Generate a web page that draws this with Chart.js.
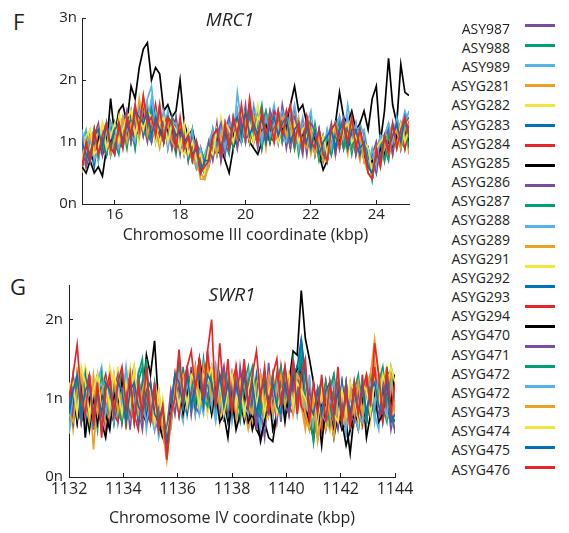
<!DOCTYPE html>
<html>
<head>
<meta charset="utf-8">
<script src="https://cdn.jsdelivr.net/npm/chart.js@4.4.1/dist/chart.umd.min.js"></script>
<style>
  body { margin: 0; background: #fff; width: 569px; height: 533px; overflow: hidden; position: relative;
         font-family: "Open Sans", sans-serif; color: #231f20; }
  .box { position: absolute; left: 0; }
  .tag { position: absolute; font-size: 22px; line-height: 22px; }
  .gene { position: absolute; width: 200px; text-align: center; font-size: 19px; line-height: 19px; font-style: italic; }
  .lab { position: absolute; right: 59px; font-size: 14px; line-height: 14px; white-space: nowrap; }
  .swatch { position: absolute; left: 525px; width: 30px; height: 3px; }
</style>
</head>
<body>
<div class="tag" style="left:13px; top:10px;">F</div>
<div class="tag" style="left:10px; top:275px;">G</div>
<div class="box" style="top:0px; width:430px; height:250px;"><canvas id="mrc1" width="430" height="250"></canvas></div>
<div class="box" style="top:260px; width:430px; height:273px;"><canvas id="swr1" width="430" height="273"></canvas></div>
<div class="gene" style="left:130px; top:10px;">MRC1</div>
<div class="gene" style="left:132px; top:285px;">SWR1</div>
<div id="legend"></div>
<script>
// strain names as printed in the legend (24 names, 23 colour swatches)
const strains = ["ASY987", "ASY988", "ASY989", "ASYG281", "ASYG282", "ASYG283", "ASYG284", "ASYG285",
  "ASYG286", "ASYG287", "ASYG288", "ASYG289", "ASYG291", "ASYG292", "ASYG293", "ASYG294",
  "ASYG470", "ASYG471", "ASYG472", "ASYG472", "ASYG473", "ASYG474", "ASYG475", "ASYG476"];
const palette = ["#7e4c9e", "#00a077", "#56b4e9", "#eba125", "#f2e53f", "#0072b8", "#e8262a", "#000000"];

// panel F: MRC1 region, chromosome III (kbp)
const xMrc1 = [15,15.125,15.25,15.375,15.5,15.625,15.75,15.875,16,16.125,16.25,16.375,16.5,16.625,16.75,16.875,
  17,17.125,17.25,17.375,17.5,17.625,17.75,17.875,18,18.125,18.25,18.375,18.5,18.625,18.75,18.875,
  19,19.125,19.25,19.375,19.5,19.625,19.75,19.875,20,20.125,20.25,20.375,20.5,20.625,20.75,20.875,
  21,21.125,21.25,21.375,21.5,21.625,21.75,21.875,22,22.125,22.25,22.375,22.5,22.625,22.75,22.875,
  23,23.125,23.25,23.375,23.5,23.625,23.75,23.875,24,24.125,24.25,24.375,24.5,24.625,24.75,24.875,25];
const xTicksMrc1 = [16, 18, 20, 22, 24];
const yTicksMrc1 = [0, 1, 2, 3];

const mrc1_01 = [0.6,1.1,0.8,0.7,1.2,0.9,1.3,0.8,1.0,1.4, 1.0,1.5,1.2,0.9,1.6,1.3,1.0,1.5,1.4,1.0,
  1.5,0.9,1.3,1.2,0.8,1.3,0.7,1.1,0.6,0.9, 0.5,1.0,0.8,1.3,0.7,1.2,1.4,0.9,1.5,1.1,
  1.6,1.0,1.4,1.5,0.9,1.4,1.1,1.5,1.0,1.6, 1.2,0.9,1.5,1.1,0.8,1.4,1.2,0.8,1.1,0.7,
  1.0,1.3,0.8,1.4,1.1,0.9,1.4,1.0,1.2,0.7, 0.9,0.5,0.8,1.1,0.7,1.2,1.0,1.4,0.9,1.3,1.2];
const mrc1_02 = [0.9,0.6,1.0,1.2,0.7,1.1,0.8,1.3,1.0,0.8, 1.3,1.1,1.5,0.9,1.4,1.6,1.2,1.0,1.5,1.1,
  1.0,1.4,1.1,0.8,1.3,1.0,0.8,1.2,0.6,0.8, 0.6,0.7,1.2,0.8,1.3,1.0,0.8,1.4,1.1,1.3,
  1.0,1.5,1.1,1.3,1.6,1.0,1.2,1.4,1.1,1.3, 1.5,1.0,1.3,0.8,1.2,1.0,1.4,0.8,1.2,0.9,
  0.7,1.1,1.3,0.9,1.3,1.2,0.8,1.2,0.9,1.1, 0.6,0.7,0.5,1.0,0.9,0.7,1.2,0.9,1.3,1.1,0.9];
const mrc1_03 = [1.1,0.8,0.7,1.2,0.9,0.8,1.3,1.1,0.9,1.2, 1.4,1.0,1.3,1.6,1.2,1.4,1.7,1.9,1.3,1.6,
  1.2,1.5,1.0,1.4,0.9,1.2,1.1,0.8,1.0,0.7, 0.8,1.0,0.9,1.2,1.1,0.8,1.3,1.0,1.8,1.3,
  1.2,1.0,1.6,1.3,1.0,1.5,1.3,1.6,1.1,1.4, 1.0,1.3,1.6,1.2,1.0,1.3,1.5,0.9,1.1,0.8,
  1.2,1.0,1.3,1.4,1.0,1.6,1.2,0.9,1.3,1.1, 0.8,0.6,1.0,0.7,1.1,1.3,1.0,1.4,1.2,1.5,1.3];
const mrc1_04 = [0.5,1.0,0.7,0.9,1.2,0.8,1.1,0.9,1.3,1.0, 1.2,0.9,1.4,1.1,1.7,1.3,1.1,1.5,1.2,0.9,
  1.3,1.0,1.4,0.9,1.2,0.8,1.1,0.7,0.6,0.5, 0.4,0.7,1.0,0.8,1.2,0.9,1.1,1.3,0.9,1.2,
  1.5,1.0,1.3,1.1,1.4,0.9,1.5,1.2,1.0,1.4, 1.1,1.3,1.0,1.4,0.9,1.2,0.8,1.1,0.7,1.0,
  0.8,1.2,0.9,1.3,1.1,0.8,1.2,1.0,0.7,1.1, 0.5,0.4,0.8,0.6,1.0,1.1,0.8,1.2,0.9,1.3,0.8];
const mrc1_05 = [0.7,0.9,1.2,0.8,1.1,1.3,0.8,1.0,1.2,1.5, 1.1,0.9,1.5,1.3,1.0,1.6,1.4,1.1,1.6,1.2,
  1.0,1.3,0.9,1.4,1.1,1.2,0.9,0.8,1.0,0.6, 0.7,0.6,1.1,0.9,1.4,1.0,1.2,0.9,1.3,1.5,
  1.0,1.4,1.2,1.6,1.0,1.3,1.5,1.1,1.3,1.4, 1.1,1.5,0.9,1.3,1.2,1.0,1.3,0.9,1.1,0.8,
  1.0,1.2,0.8,1.3,1.0,1.2,1.4,0.8,1.2,1.0, 0.6,0.8,0.9,0.6,1.1,0.8,1.2,1.0,1.1,1.4,1.2];
const mrc1_06 = [0.8,1.0,0.9,0.6,1.1,1.0,1.2,1.0,0.8,1.2, 1.3,1.4,1.0,1.4,1.5,1.1,1.3,1.6,1.2,1.4,
  1.1,1.3,1.2,1.0,1.2,0.9,1.1,0.9,0.7,0.9, 0.6,0.9,1.1,1.2,0.8,1.3,1.0,1.2,1.3,1.0,
  1.4,1.2,1.5,1.0,1.3,1.4,1.0,1.4,1.3,1.0, 1.3,1.4,1.0,1.2,1.3,0.9,1.3,1.1,0.8,1.1,
  0.9,0.8,1.3,1.1,0.9,1.3,1.2,0.9,1.1,0.8, 0.7,0.5,0.9,0.8,1.0,0.9,1.2,1.0,1.3,1.1,1.4];
const mrc1_07 = [0.6,1.0,0.8,1.1,1.2,0.9,0.8,1.3,1.1,0.9, 1.0,1.4,1.2,1.5,1.2,1.7,1.4,1.2,1.6,1.1,
  1.4,1.0,1.4,1.3,1.0,1.1,0.9,1.0,0.6,0.7, 0.5,0.8,1.0,1.1,1.2,0.9,1.3,1.0,1.4,1.5,
  1.2,1.6,1.0,1.3,1.4,1.1,1.0,1.5,1.4,1.1, 1.5,1.2,0.9,1.3,1.0,1.4,1.0,0.9,1.1,0.8,
  1.0,1.2,0.9,1.1,1.3,0.9,1.2,0.8,1.1,0.7, 0.6,0.6,0.7,1.0,0.8,1.1,0.9,1.3,1.2,1.0,1.4];
const mrc1_08 = [0.6,0.5,0.7,0.5,0.6,0.45,0.9,1.7,1.1,1.5, 1.6,1.3,1.9,1.7,2.2,2.5,2.6,2.0,2.2,2.1,
  1.5,1.6,1.4,1.5,2.0,1.3,1.1,1.2,0.9,0.8, 0.6,0.9,1.0,0.8,0.9,0.7,0.5,0.9,1.1,1.0,
  1.3,1.0,0.9,0.8,1.0,1.1,1.2,1.1,1.3,1.2, 1.3,1.6,1.9,1.5,1.6,1.3,1.2,1.0,0.8,0.55,
  0.7,1.2,1.3,1.8,1.4,1.3,1.5,1.2,1.3,1.5, 1.2,1.7,1.9,1.0,1.5,2.35,1.6,1.3,2.25,1.8,1.75];
const mrc1_09 = [1.0,0.7,1.1,0.8,1.2,0.9,0.8,1.2,0.9,1.3, 1.0,1.4,1.0,1.2,1.5,1.1,1.5,1.3,1.2,1.0,
  1.3,1.4,0.9,1.1,1.3,0.8,1.1,0.7,1.0,0.8, 0.6,0.6,0.9,1.2,0.7,1.0,1.2,1.3,1.0,1.5,
  1.1,1.4,1.0,1.3,1.4,1.0,1.4,1.3,1.5,1.0, 1.3,0.9,1.4,1.1,0.9,1.3,1.2,0.8,1.2,0.7,
  1.0,1.2,0.9,1.3,0.9,1.2,1.0,1.3,0.8,1.1, 0.7,0.8,0.5,0.9,1.1,0.8,1.0,1.2,1.3,0.9,1.3];
const mrc1_10 = [0.6,0.8,1.0,1.2,0.8,1.1,1.2,0.8,1.3,1.0, 0.9,1.3,1.4,1.0,1.4,1.5,1.1,1.0,1.4,1.3,
  1.0,1.3,1.2,0.9,1.0,1.2,0.7,1.0,0.6,0.9, 0.7,0.9,1.0,0.8,1.2,1.2,0.9,1.1,1.4,1.2,
  1.4,1.0,1.2,1.4,0.9,1.3,1.4,1.1,1.5,1.2, 1.0,1.3,1.2,0.9,1.2,1.3,0.9,1.1,0.7,0.9,
  1.1,0.8,1.2,1.3,1.0,0.9,1.2,1.1,1.0,0.8, 0.9,0.4,0.8,0.7,0.9,1.2,1.0,1.3,1.0,0.9,1.2];
const mrc1_11 = [1.0,1.2,0.8,1.0,0.7,1.2,1.3,0.9,1.2,1.0, 1.4,1.2,1.0,1.4,1.2,1.6,1.3,1.7,1.2,1.1,
  1.5,1.2,1.0,1.3,1.1,1.2,1.0,0.8,0.9,0.6, 0.6,1.0,1.2,0.9,1.1,1.3,0.9,1.4,1.1,1.5,
  1.2,1.4,1.1,1.0,1.4,1.2,1.5,1.1,1.3,1.5, 1.3,1.0,1.3,1.1,1.4,1.0,0.9,1.2,0.8,1.0,
  0.7,1.1,1.2,1.4,1.0,1.3,0.9,1.2,1.1,1.2, 0.8,0.8,0.6,1.1,0.9,1.1,1.3,1.0,1.1,1.4,1.2];
const mrc1_12 = [0.8,0.6,1.0,0.9,1.2,0.8,1.1,1.2,0.9,1.3, 1.2,1.0,1.3,1.5,1.2,1.4,1.6,1.2,1.1,1.4,
  1.0,1.4,1.2,1.0,1.3,0.9,0.8,1.1,0.6,0.5, 0.4,0.7,0.8,1.2,1.0,1.2,0.9,1.3,1.2,1.0,
  1.4,1.2,1.0,1.3,1.1,1.4,1.1,1.0,1.4,1.3, 1.1,1.0,1.4,0.9,1.3,1.1,1.2,0.9,1.1,0.7,
  0.9,1.1,1.0,1.0,1.3,1.1,0.9,1.2,1.0,0.8, 0.6,0.5,0.9,0.8,1.1,1.0,0.8,1.2,1.3,1.0,1.3];
const mrc1_13 = [1.1,0.8,0.9,1.2,1.0,1.3,0.9,1.2,1.0,1.4, 1.0,1.3,1.4,1.1,1.4,1.5,1.2,1.1,1.4,1.0,
  1.3,1.2,1.0,1.3,0.9,0.8,1.2,0.8,0.9,0.5, 0.7,0.9,0.8,1.2,1.0,0.9,1.2,1.3,1.0,1.4,
  1.5,1.1,1.4,1.0,1.3,1.4,1.0,1.2,1.3,1.0, 1.4,1.2,1.0,1.3,0.9,1.1,1.3,0.9,1.0,0.7,
  1.1,1.0,1.2,0.9,1.3,1.2,0.9,1.1,1.2,0.7, 0.7,0.5,0.9,1.0,0.8,1.1,1.2,0.9,1.1,1.2,1.4];
const mrc1_14 = [0.9,0.7,1.1,1.0,0.8,1.1,1.2,0.9,1.3,1.0, 1.2,1.3,1.2,1.1,1.3,1.6,1.2,1.5,1.1,1.3,
  1.4,1.1,1.2,1.0,1.1,1.0,1.1,0.7,0.9,0.6, 0.7,0.9,1.0,0.9,1.2,1.0,1.3,1.0,1.2,1.3,
  1.1,1.5,1.2,1.3,1.0,1.3,1.2,1.4,1.0,1.3, 1.2,1.3,1.1,1.0,1.2,1.0,1.2,0.9,0.9,1.1,
  0.8,1.0,1.2,0.9,1.2,1.0,1.2,1.0,0.8,1.1, 0.8,0.5,0.7,1.0,0.8,1.0,1.1,1.2,1.0,1.3,1.0];
const mrc1_15 = [0.8,0.9,1.1,0.8,1.0,1.2,0.9,0.9,1.2,1.3, 1.0,1.3,1.1,1.4,1.5,1.2,1.5,1.2,1.4,1.1,
  1.3,1.4,1.0,1.3,1.0,1.1,0.9,1.0,0.7,0.8, 0.5,0.9,1.1,1.2,0.9,1.2,1.0,1.2,1.3,1.4,
  1.2,1.3,1.4,1.1,1.3,1.4,1.1,1.0,1.4,1.3, 1.1,1.4,1.0,1.2,0.9,1.3,1.0,1.1,0.9,0.8,
  1.0,0.9,1.2,1.0,1.1,1.2,1.0,1.1,0.9,1.0, 0.6,0.5,0.9,0.7,1.0,0.9,1.1,1.0,1.3,0.9,1.3];
const mrc1_16 = [0.6,0.9,0.8,0.7,1.1,0.8,1.1,1.0,1.1,1.0, 1.3,1.0,1.4,1.1,1.2,1.5,1.1,1.4,1.1,1.2,
  1.1,1.2,1.3,0.9,1.2,1.0,0.8,1.0,0.7,0.8, 0.5,0.9,0.8,1.1,0.9,1.2,0.9,1.1,1.3,1.1,
  1.3,1.0,1.3,1.1,1.2,1.3,1.0,1.3,1.1,1.2, 1.3,1.0,1.2,1.0,1.1,1.2,0.9,1.1,0.8,0.7,
  1.0,0.9,1.1,1.0,1.2,0.9,1.1,0.9,1.1,0.8, 0.6,0.7,0.6,0.9,0.8,1.0,0.9,1.1,1.0,1.2,1.0];
const mrc1_17 = [1.1,0.6,0.8,1.1,1.3,0.8,1.2,0.8,1.2,0.9, 1.3,1.5,1.0,1.4,1.1,1.5,1.4,1.0,1.3,1.5,
  1.0,1.3,0.9,1.4,0.9,1.2,0.8,1.1,0.9,0.5, 0.6,1.0,0.7,1.1,1.3,0.8,1.2,1.3,0.9,1.4,
  1.0,1.5,1.3,0.9,1.3,1.0,1.5,1.3,1.0,1.4, 0.9,1.3,1.4,1.0,1.3,0.8,1.3,1.2,0.8,1.1,
  0.7,1.2,0.8,1.2,1.4,0.9,1.3,0.8,1.2,0.9, 0.6,0.8,1.0,0.7,1.1,1.2,0.8,1.3,0.9,1.3,1.4];
const mrc1_18 = [0.7,1.1,0.7,1.2,0.8,1.2,0.8,1.3,0.9,1.2, 1.3,0.9,1.4,1.3,1.5,1.2,1.1,1.5,1.0,1.4,
  1.3,1.0,1.4,1.0,0.9,1.2,0.9,0.7,1.0,0.6, 0.5,0.9,1.1,0.9,0.8,1.2,1.2,0.9,1.3,1.0,
  1.4,1.4,1.0,1.3,1.3,1.5,1.0,1.3,1.4,1.0, 1.4,1.3,0.9,1.3,1.0,1.2,0.9,1.3,0.9,0.7,
  1.1,0.8,1.1,1.3,0.9,1.3,0.9,1.2,1.2,0.8, 0.9,0.4,0.9,1.0,0.7,1.1,1.2,0.9,1.2,1.3,0.9];
const mrc1_19 = [1.2,0.8,1.1,0.7,0.9,1.2,0.9,1.3,1.2,0.9, 1.3,1.4,1.1,1.0,1.5,1.2,1.6,1.1,1.5,1.3,
  1.4,0.9,1.3,1.3,1.0,0.9,1.0,1.2,0.6,0.9, 0.5,0.7,1.2,0.8,1.2,0.9,1.3,1.2,1.5,1.0,
  1.4,1.1,1.5,1.4,1.0,1.4,1.1,1.3,1.5,1.1, 1.0,1.5,1.3,0.9,1.3,1.3,1.0,1.2,1.1,0.8,
  1.2,0.9,1.3,1.2,1.1,1.4,1.0,1.3,0.9,1.1, 0.6,0.9,0.6,1.1,1.1,1.3,1.0,1.4,1.0,1.3,1.5];
const mrc1_20 = [0.6,1.0,1.1,0.8,1.2,0.9,1.2,0.8,1.1,1.0, 1.4,1.0,1.3,1.4,1.1,1.7,1.1,1.4,1.1,1.4,
  1.1,1.3,1.0,0.9,1.3,0.9,1.0,0.7,0.8,0.4, 0.4,0.6,1.1,0.8,1.1,1.3,0.9,1.2,1.3,1.1,
  1.3,1.0,1.4,1.0,1.3,1.1,1.4,1.0,1.3,1.4, 1.1,1.3,1.0,1.3,1.0,0.9,1.2,0.8,1.1,0.7,
  0.7,1.1,1.2,0.9,1.2,0.9,1.3,0.9,1.1,0.7, 0.5,0.4,0.9,0.6,1.0,0.8,1.1,1.2,0.9,1.2,1.3];
const mrc1_21 = [0.7,1.1,1.2,0.8,0.9,1.3,0.9,1.1,1.3,1.0, 1.2,1.4,1.5,1.1,1.4,1.2,1.5,1.4,1.0,1.3,
  1.4,1.0,1.3,1.2,0.9,1.3,0.8,1.0,0.7,0.8, 0.5,0.9,0.8,1.2,0.9,1.3,1.2,1.0,1.3,1.5,
  1.1,1.3,1.0,1.4,1.3,1.1,1.3,1.4,1.0,1.3, 1.4,1.0,1.3,1.0,1.2,1.3,0.9,1.2,0.8,1.1,
  0.8,1.1,1.3,0.9,1.2,1.3,1.0,1.1,0.9,1.0, 0.9,0.5,0.9,1.0,1.1,0.9,1.2,0.9,1.3,1.0,1.2];
const mrc1_22 = [1.0,0.8,0.7,1.1,1.2,0.9,1.3,0.9,1.2,1.3, 1.0,1.3,1.1,1.5,1.4,1.3,1.5,1.1,1.4,1.2,
  1.0,1.4,1.3,1.1,1.2,1.0,1.1,0.8,0.9,0.5, 0.7,0.7,1.1,1.2,0.9,1.2,0.9,1.3,1.4,1.1,
  1.5,1.1,1.3,1.1,1.4,1.0,1.3,1.4,1.1,1.3, 1.4,1.0,1.2,1.3,0.9,1.3,0.9,1.2,0.8,1.0,
  1.1,1.2,0.9,1.2,1.3,0.9,1.2,1.2,0.9,1.0, 0.6,0.5,0.8,0.7,1.1,0.9,1.1,1.3,1.0,1.4,1.1];
const mrc1_23 = [0.6,1.0,0.7,1.2,0.8,1.1,1.3,0.9,0.8,1.3, 0.9,1.4,1.1,1.6,1.2,1.75,1.3,1.4,1.1,1.6,
  1.0,1.4,1.3,0.9,1.4,0.9,1.1,0.7,1.0,0.5, 0.6,0.7,1.1,1.2,0.8,1.3,0.9,1.4,1.1,1.6,
  1.1,1.7,1.2,1.0,1.5,1.1,1.4,1.0,1.5,1.1, 1.4,1.6,1.0,1.3,0.9,1.4,1.0,0.9,1.2,0.8,
  0.7,1.2,1.3,0.9,1.3,1.0,1.4,0.9,1.2,0.9, 0.5,0.4,0.9,0.6,1.1,0.8,1.3,0.9,1.2,1.4,1.1];

// panel G: SWR1 region, chromosome IV (kbp)
const xSwr1 = [1132,1132.15,1132.3,1132.45,1132.6,1132.75,1132.9,1133.05,1133.2,1133.35,1133.5,1133.65,
  1133.8,1133.95,1134.1,1134.25,1134.4,1134.55,1134.7,1134.85,1135,1135.15,1135.3,1135.45,1135.6,1135.75,
  1135.9,1136.05,1136.2,1136.35,1136.5,1136.65,1136.8,1136.95,1137.1,1137.25,1137.4,1137.55,1137.7,1137.85,
  1138,1138.15,1138.3,1138.45,1138.6,1138.75,1138.9,1139.05,1139.2,1139.35,1139.5,1139.65,1139.8,1139.95,
  1140.1,1140.25,1140.4,1140.55,1140.7,1140.85,1141,1141.15,1141.3,1141.45,1141.6,1141.75,1141.9,1142.05,
  1142.2,1142.35,1142.5,1142.65,1142.8,1142.95,1143.1,1143.25,1143.4,1143.55,1143.7,1143.85,1144];
const xTicksSwr1 = [1132, 1134, 1136, 1138, 1140, 1142, 1144];
const yTicksSwr1 = [0, 1, 2];

const swr1_01 = [0.7,1.2,0.8,1.3,0.6,1.1,0.7,1.2,1.0,0.6, 1.1,0.7,1.3,0.8,1.1,0.6,1.2,0.9,0.6,1.1,
  0.9,0.6,1.0,0.5,0.5,0.7,1.2,0.8,1.3,0.9, 1.4,0.8,1.2,1.3,0.9,1.4,0.8,1.2,0.7,1.3,
  1.1,0.7,1.4,1.0,0.7,1.1,0.6,1.2,0.8,1.45, 0.8,1.2,0.7,1.3,0.9,0.8,1.3,1.1,0.7,1.2,
  0.6,1.0,1.1,0.6,1.2,0.8,0.6,1.1,0.7,1.0, 1.2,0.7,1.1,0.8,1.2,0.8,1.3,0.7,1.1,0.6,0.9];
const swr1_02 = [1.1,0.7,1.3,0.8,1.2,0.7,1.0,0.6,1.2,0.8, 0.7,1.1,0.8,1.4,0.7,1.1,0.8,1.3,1.5,0.7,
  1.1,0.7,0.6,0.8,0.5,0.9,1.1,1.4,0.8,1.2, 0.9,1.3,1.0,1.5,1.0,0.8,1.3,0.9,1.2,0.8,
  1.3,0.9,0.7,1.2,1.4,0.8,1.1,0.7,1.3,0.9, 1.2,0.8,1.3,0.8,1.2,1.4,1.1,1.7,1.3,0.9,
  0.45,1.0,1.2,0.7,1.1,1.3,0.8,0.7,1.1,0.6, 1.0,1.2,0.7,1.1,1.3,0.8,1.2,0.9,0.7,1.4,1.2];
const swr1_03 = [0.55,1.0,1.2,0.7,1.1,0.6,1.0,1.3,0.7,1.1, 0.6,1.2,0.8,0.7,1.4,0.8,1.1,0.7,1.2,0.6,
  1.0,1.1,0.5,0.7,0.6,0.6,1.2,0.9,0.7,1.3, 1.1,0.8,1.4,0.9,1.3,1.0,0.7,1.1,1.4,0.8,
  1.2,0.7,1.1,1.3,0.8,1.2,0.9,0.6,1.1,1.2, 0.7,1.3,0.8,1.1,0.8,1.2,1.4,1.0,0.8,1.3,
  0.7,1.1,0.8,1.2,0.6,1.1,0.7,1.0,0.5,1.1, 0.7,1.0,1.2,0.7,1.1,0.8,0.6,1.2,0.8,0.7,0.6];
const swr1_04 = [1.0,0.6,1.1,1.2,0.7,1.1,0.35,1.0,1.2,0.7, 1.1,0.8,0.7,1.2,0.6,1.1,1.3,0.8,0.7,1.2,
  0.7,1.0,0.6,0.8,0.25,0.7,1.0,1.2,0.9,1.4, 0.8,1.2,1.3,0.9,1.4,0.9,1.3,0.8,1.2,0.9,
  0.8,1.3,0.9,0.8,1.2,0.7,1.2,0.9,0.8,1.3, 1.1,0.7,1.2,0.9,1.3,0.8,1.2,0.9,0.6,1.0,
  0.7,0.5,1.1,0.8,0.6,1.2,0.8,1.1,0.7,1.2, 0.8,1.1,0.6,1.3,0.8,1.2,0.9,1.4,0.8,1.1,0.7];
const swr1_05 = [1.2,0.8,1.4,0.9,0.8,1.2,1.1,0.7,1.4,0.9, 1.2,0.8,1.4,0.9,1.3,0.8,1.2,0.9,0.7,1.2,
  1.1,0.8,0.7,1.0,0.6,1.1,0.8,1.3,0.9,0.8, 1.2,0.9,1.3,1.2,0.8,1.3,0.9,1.2,0.8,1.3,
  0.9,1.2,0.8,1.1,1.3,0.9,0.8,1.2,1.1,0.8, 1.3,0.9,1.2,0.8,1.1,1.2,0.8,1.3,0.9,0.7,
  1.1,0.8,0.7,1.1,1.2,0.8,0.7,1.1,0.8,0.7, 1.1,0.8,1.2,1.1,0.7,1.3,0.9,1.2,1.4,0.9,0.7];
const swr1_06 = [0.8,1.3,0.9,0.7,1.2,0.8,1.1,0.7,1.1,1.3, 0.8,1.2,0.7,1.1,0.8,1.2,0.7,1.1,1.2,0.8,
  1.1,0.7,1.0,0.6,0.45,0.9,1.3,0.9,1.2,0.9, 1.3,0.9,1.2,1.4,0.9,1.2,1.3,0.8,1.2,0.9,
  0.8,1.2,0.9,1.3,0.8,1.1,1.2,0.8,1.2,0.9, 0.9,1.2,0.8,1.3,0.9,1.4,1.0,1.5,1.0,0.8,
  0.7,1.1,0.8,1.2,0.8,1.1,0.7,1.2,0.8,1.1, 0.7,1.1,0.8,1.2,0.9,1.3,0.8,1.2,0.9,0.7,0.8];
const swr1_07 = [1.1,0.7,1.3,0.9,0.7,1.2,0.6,1.1,0.8,1.3, 0.7,1.1,1.2,0.7,1.1,1.3,0.8,0.6,1.1,0.8,
  1.2,0.8,0.7,0.5,0.35,0.7,1.1,1.5,0.8,1.3, 1.0,1.4,0.9,1.3,1.5,1.0,1.4,0.9,1.3,0.8,
  1.2,1.4,0.8,1.2,0.9,1.3,0.7,1.1,1.3,0.8, 1.2,0.9,1.4,0.9,0.8,1.2,0.9,1.3,0.8,1.1,
  0.7,1.1,0.6,1.0,1.2,0.7,1.1,0.8,1.2,0.7, 1.1,0.8,1.3,0.7,1.1,1.2,0.9,0.8,1.3,0.9,1.2];
const swr1_08 = [0.8,0.9,1.1,0.7,0.9,0.6,1.0,0.8,0.7,0.5, 0.9,0.7,1.0,0.8,1.1,0.9,1.2,0.8,1.0,1.55,
  1.3,1.73,0.9,0.7,0.4,0.9,1.1,0.9,1.2,1.0, 1.3,1.1,1.5,1.2,1.4,0.9,1.1,0.8,1.0,0.7,
  1.1,0.8,1.0,0.7,0.9,0.6,0.8,0.45,0.7,0.5, 0.45,0.8,1.0,0.9,1.2,1.6,1.55,2.37,1.76,1.5,
  1.2,0.7,0.9,0.6,0.9,0.5,0.8,0.6,0.7,0.3, 0.8,0.6,1.0,0.7,1.1,0.8,1.2,1.0,1.3,1.1,1.3];
const swr1_09 = [0.7,1.1,0.9,1.2,0.8,0.7,1.1,1.3,0.8,1.1, 0.7,1.2,0.8,1.1,0.7,1.2,1.4,0.8,1.1,0.7,
  0.8,1.1,0.6,0.8,0.5,0.9,1.1,0.8,1.2,0.9, 1.3,0.9,0.8,1.2,1.4,0.9,1.2,0.8,1.3,1.0,
  0.8,1.1,1.3,0.8,1.2,0.9,0.7,0.9,0.5,1.1, 1.2,0.8,1.1,1.2,0.8,1.3,0.9,1.2,0.8,0.7,
  1.1,0.8,1.1,0.7,0.8,1.1,0.7,1.2,0.8,1.1, 0.8,1.2,0.7,1.1,0.8,1.1,1.2,0.8,1.1,1.2,0.55];
const swr1_10 = [0.8,1.2,0.7,1.1,1.3,0.8,1.2,0.7,1.1,0.8, 1.2,0.8,1.1,1.3,0.8,1.1,0.7,1.2,1.4,0.9,
  0.8,1.2,0.7,0.7,0.6,1.0,1.2,0.8,1.4,0.9, 1.2,1.3,0.9,1.2,1.3,0.9,1.2,1.1,0.8,1.3,
  1.2,0.8,1.1,1.3,0.9,0.8,1.2,0.9,1.3,0.9, 0.8,1.2,1.4,0.9,1.2,0.9,1.3,1.45,0.9,0.7,
  0.8,1.1,1.2,0.8,1.1,1.3,0.9,0.8,1.2,0.7, 1.1,1.3,0.8,1.2,0.9,0.8,1.2,0.9,1.3,1.35,0.9];
const swr1_11 = [0.6,1.1,0.8,1.2,0.7,1.1,0.8,1.2,1.4,0.8, 1.1,1.3,0.7,1.1,1.2,0.8,1.3,0.9,0.7,1.1,
  0.8,0.6,1.0,0.5,0.6,0.7,1.1,1.3,0.9,0.8, 1.2,1.3,0.8,1.1,1.3,1.0,0.8,1.2,0.9,1.3,
  0.7,1.1,1.2,0.8,1.3,0.9,1.2,0.8,0.7,1.1, 1.3,0.9,0.8,1.2,0.9,1.3,0.8,1.2,0.9,0.8,
  0.6,1.1,0.7,1.2,0.9,0.7,1.1,0.8,0.6,1.1, 0.8,0.6,1.1,0.8,1.2,0.7,1.1,0.8,1.3,0.8,1.1];
const swr1_12 = [1.1,0.8,1.2,0.7,1.1,0.8,1.3,0.8,1.1,0.7, 0.8,1.2,0.9,0.8,1.3,0.9,0.7,1.1,0.8,1.2,
  1.1,0.8,0.7,0.6,0.3,0.7,1.2,0.9,1.3,1.2, 0.9,1.3,1.0,1.4,0.9,1.3,1.2,0.7,1.1,0.8,
  1.1,0.7,1.2,0.9,0.6,0.8,1.2,1.1,0.7,0.8, 1.2,0.9,0.8,1.2,0.9,1.3,1.2,0.9,0.7,0.8,
  0.5,0.7,1.1,0.6,0.8,0.7,1.1,0.8,0.7,0.8, 1.1,0.7,0.8,1.3,1.2,1.5,0.9,1.3,0.8,1.2,1.1];
const swr1_13 = [0.8,1.1,1.3,0.9,1.4,1.2,0.8,1.1,1.3,0.9, 1.4,1.2,0.9,0.8,1.2,1.4,0.8,1.1,1.2,0.8,
  1.1,0.7,1.0,0.7,0.6,0.8,1.1,1.2,0.8,1.3, 0.9,1.2,0.9,1.3,1.1,1.2,1.4,0.9,1.3,0.9,
  1.2,0.9,0.8,1.3,0.9,1.2,0.8,1.1,1.2,0.8, 1.1,1.3,0.9,0.8,1.2,0.9,1.3,1.1,0.8,1.1,
  0.7,0.8,1.1,0.7,1.1,0.8,1.2,0.7,0.8,1.1, 0.7,1.1,0.8,1.2,0.9,1.3,1.2,0.9,0.8,1.3,0.65];
const swr1_14 = [1.1,0.7,1.2,0.8,1.3,0.8,1.1,0.7,1.2,0.8, 1.1,0.7,1.2,0.9,0.8,1.2,1.1,0.7,1.2,0.8,
  0.7,1.1,0.6,0.6,0.5,0.9,1.2,0.9,1.3,0.8, 1.2,0.9,1.3,0.9,1.2,1.4,0.9,1.3,1.2,0.8,
  1.1,1.2,0.9,0.8,1.2,0.9,1.3,0.8,1.1,1.2, 0.8,1.1,1.2,0.8,1.1,1.3,1.2,1.4,0.9,0.8,
  1.1,0.7,0.8,1.1,0.7,1.1,0.8,1.2,0.7,0.8, 1.1,0.7,1.1,0.8,1.2,0.9,0.8,1.1,1.2,0.8,0.7];
const swr1_15 = [0.8,1.2,0.7,1.1,0.8,1.3,0.7,1.1,0.6,1.1, 1.2,0.8,0.7,1.2,0.8,1.1,0.7,1.3,0.8,1.1,
  0.7,1.1,0.8,0.6,0.4,0.9,1.3,0.8,1.2,1.4, 0.9,1.3,1.4,1.0,1.6,1.1,0.9,1.2,1.4,0.9,
  1.3,0.9,1.2,1.4,0.8,1.2,0.9,1.3,0.8,1.2, 0.9,1.3,0.9,1.2,0.8,1.1,1.3,0.9,0.8,0.6,
  1.0,1.1,0.7,1.2,0.8,1.1,0.7,0.8,1.1,0.7, 0.8,1.1,0.7,1.2,0.8,1.4,0.9,0.7,1.1,1.2,0.8];
const swr1_16 = [0.8,1.1,0.7,1.2,0.5,1.0,1.1,0.7,1.1,0.8, 0.6,1.1,0.8,1.2,0.7,1.1,0.8,1.2,0.8,0.7,
  1.1,0.8,0.7,0.5,0.45,0.9,1.1,1.2,0.8,1.1, 1.3,0.9,1.2,0.9,1.3,0.8,1.1,0.7,0.8,0.5,
  1.0,0.6,0.8,1.1,0.7,0.8,0.6,0.5,0.7,1.1, 0.6,0.8,1.1,0.7,1.1,1.2,1.4,1.3,0.9,0.7,
  0.5,0.9,0.4,0.9,0.8,0.6,1.0,0.7,0.4,0.6, 0.8,0.7,1.1,0.5,0.8,1.1,0.7,0.8,1.2,0.9,1.3];
const swr1_17 = [1.1,0.8,1.2,0.7,1.1,1.3,0.8,1.1,0.7,1.2, 0.8,1.1,1.3,0.7,1.1,0.8,1.2,1.1,0.7,1.3,
  0.8,1.1,0.7,0.7,0.6,1.1,0.8,1.2,0.9,1.3, 0.8,1.2,0.9,1.3,1.0,0.9,1.3,0.8,1.4,0.9,
  1.2,0.8,1.1,1.2,0.8,1.1,0.6,1.2,0.9,0.8, 1.1,0.7,1.2,0.9,0.8,1.2,0.9,1.3,0.8,1.1,
  0.8,0.7,1.2,0.8,1.1,0.7,1.1,0.8,1.2,0.8, 0.7,1.1,0.8,0.7,1.1,1.2,0.8,1.3,0.9,0.8,0.6];
const swr1_18 = [0.7,1.1,1.2,0.8,1.2,0.7,1.1,0.8,1.3,0.9, 0.8,1.2,0.9,0.7,1.2,0.9,0.8,1.3,0.9,1.5,
  0.8,1.1,0.8,0.7,0.6,0.7,1.2,1.4,0.9,1.2, 1.3,0.9,1.4,1.0,0.9,1.3,1.0,0.9,1.3,1.0,
  0.9,1.3,0.8,1.1,1.2,1.4,0.9,0.8,1.2,0.9, 1.3,0.9,1.2,1.4,0.9,1.5,1.1,1.75,1.0,0.8,
  0.45,1.1,0.8,1.2,0.7,1.1,1.2,0.8,1.1,0.7, 1.2,0.8,1.1,0.7,1.3,0.9,1.2,1.4,0.9,1.3,0.9];
const swr1_19 = [0.55,1.1,0.8,1.3,0.8,1.2,0.7,1.1,1.2,0.8, 1.1,0.7,1.2,0.9,1.4,0.9,0.8,1.2,0.9,0.7,
  1.0,0.7,1.1,0.6,0.5,0.8,1.1,1.3,0.9,1.2, 0.9,1.3,1.0,0.8,1.3,0.9,1.4,1.0,0.8,1.2,
  0.9,1.3,1.0,0.9,0.8,1.2,0.9,1.3,0.9,1.2, 0.8,1.2,0.9,1.3,1.0,0.9,1.3,1.2,0.9,0.8,
  0.7,1.1,0.8,0.7,1.1,1.2,0.8,1.1,0.7,1.1, 1.2,0.8,0.7,1.1,1.2,0.9,1.3,0.9,0.8,1.2,0.9];
const swr1_20 = [0.8,0.7,1.1,1.3,0.9,0.7,1.2,0.8,1.1,1.2, 0.8,1.3,0.8,1.1,0.7,1.1,1.2,0.8,1.1,1.3,
  0.8,0.7,1.1,0.6,0.2,0.7,1.1,1.2,1.3,0.9, 1.2,1.4,1.0,0.9,1.4,1.0,1.3,0.9,1.2,0.9,
  1.3,0.8,1.1,1.2,0.9,0.8,1.2,1.3,0.9,1.2, 0.8,1.1,1.3,0.9,1.2,0.9,1.3,1.2,0.8,0.6,
  1.0,0.45,0.8,1.1,0.8,0.5,1.0,1.1,0.7,1.1, 0.8,1.2,0.8,1.1,1.3,1.75,1.3,0.9,1.2,1.3,0.8];
const swr1_21 = [1.1,1.2,0.8,1.4,1.2,0.8,1.1,1.3,0.8,1.2, 0.9,1.3,1.1,0.8,1.2,0.9,1.4,0.9,0.8,1.2,
  1.1,0.7,1.1,0.7,0.55,0.8,1.2,0.9,1.2,0.9, 1.3,1.2,0.9,1.3,1.2,1.4,0.9,1.2,0.8,1.1,
  1.3,0.9,1.2,0.8,1.1,1.3,0.9,1.2,0.8,1.1, 1.2,0.8,1.1,1.2,1.3,0.9,1.2,1.1,1.0,0.8,
  1.1,0.7,1.1,0.8,1.2,0.8,0.7,1.1,0.8,1.2, 1.1,0.7,1.2,1.1,0.8,1.2,0.9,1.3,1.1,1.4,1.2];
const swr1_22 = [0.8,1.1,1.3,0.8,1.1,1.2,0.7,1.1,0.8,1.2, 1.1,0.8,1.2,1.1,0.7,1.1,1.2,0.9,0.8,1.1,
  1.2,0.8,0.7,0.9,0.45,0.8,1.3,1.2,0.9,1.3, 0.9,1.2,1.3,0.9,1.3,1.2,0.9,1.3,0.9,1.2,
  0.8,1.2,0.9,1.3,0.9,1.2,0.8,1.1,1.2,0.9, 1.2,0.9,0.8,1.2,0.9,1.3,1.4,1.75,1.3,0.9,
  0.8,1.1,0.8,1.1,1.2,0.8,1.1,0.7,1.1,0.8, 1.1,0.8,1.2,0.8,1.1,1.2,0.9,0.8,1.2,0.7,0.8];
const swr1_23 = [1.0,1.3,1.68,1.0,0.8,1.3,0.7,1.2,0.5,1.1, 1.3,0.8,1.2,1.4,0.9,1.3,0.7,1.2,0.8,1.4,
  0.7,1.2,0.6,0.9,0.22,0.8,1.0,1.62,1.0,1.4, 1.6,1.1,1.5,1.0,1.6,2.0,0.9,1.7,1.0,1.5,
  0.8,1.4,1.0,1.5,0.9,1.3,1.6,1.0,1.4,0.8, 1.3,1.5,0.9,1.4,1.0,1.5,0.8,1.3,1.5,0.7,
  1.2,0.8,1.3,0.7,1.2,0.8,1.4,0.7,1.1,0.6, 1.2,0.8,1.1,1.3,0.9,1.7,1.3,0.8,1.4,0.8,1.2];

const mrc1Series = [mrc1_01, mrc1_02, mrc1_03, mrc1_04, mrc1_05, mrc1_06, mrc1_07, mrc1_08, mrc1_09, mrc1_10,
  mrc1_11, mrc1_12, mrc1_13, mrc1_14, mrc1_15, mrc1_16, mrc1_17, mrc1_18, mrc1_19, mrc1_20, mrc1_21, mrc1_22, mrc1_23];
const swr1Series = [swr1_01, swr1_02, swr1_03, swr1_04, swr1_05, swr1_06, swr1_07, swr1_08, swr1_09, swr1_10,
  swr1_11, swr1_12, swr1_13, swr1_14, swr1_15, swr1_16, swr1_17, swr1_18, swr1_19, swr1_20, swr1_21, swr1_22, swr1_23];

const ink = "#231f20";
const fontFamily = "'Open Sans', sans-serif";

function datasetsFor(xs, series) {
  return series.map((ys, i) => ({
    data: ys.map((y, j) => ({ x: xs[j], y: y })),
    borderColor: palette[i % palette.length],
    borderWidth: 1.7,
    pointRadius: 0,
    fill: false,
    tension: 0,
    order: series.length - i // later strains drawn on top, like the original
  }));
}

function panel(id, xs, series, xr, yr, box) {
  new Chart(document.getElementById(id), {
    type: "line",
    data: { datasets: datasetsFor(xs, series) },
    options: {
      responsive: false,
      animation: false,
      events: [],
      layout: { padding: { top: box.top, right: box.right, left: 0, bottom: 0 } },
      plugins: { legend: { display: false }, tooltip: { enabled: false } },
      scales: {
        x: {
          type: "linear",
          min: xr.min,
          max: xr.max,
          afterBuildTicks: s => { s.ticks = xr.ticks.map(v => ({ value: v })); },
          afterFit: s => { s.height = box.xh; },
          grid: { drawOnChartArea: false, tickLength: -4, color: ink },
          border: { color: ink, width: 1 },
          ticks: { autoSkip: false, maxRotation: 0, padding: box.xpad, color: ink, callback: v => String(v),
                   font: { family: fontFamily, size: box.xfont } },
          title: { display: true, text: xr.title, color: ink, padding: { top: 0, bottom: 5 },
                   font: { family: fontFamily, size: 16 } }
        },
        y: {
          min: yr.min,
          max: yr.max,
          afterBuildTicks: s => { s.ticks = yr.ticks.map(v => ({ value: v })); },
          afterFit: s => { s.width = box.yw; },
          grid: { drawOnChartArea: false, tickLength: -4, color: ink },
          border: { color: ink, width: 1 },
          ticks: { padding: box.ypad, color: ink, callback: v => v + "n",
                   font: { family: fontFamily, size: 15 } }
        }
      }
    }
  });
}

panel("mrc1", xMrc1, mrc1Series,
  { min: 15, max: 25, ticks: xTicksMrc1, title: "Chromosome III coordinate (kbp)" },
  { min: 0, max: 3, ticks: yTicksMrc1 },
  { top: 13, right: 21, yw: 82, xh: 46, xpad: 6, ypad: 9, xfont: 15 });

panel("swr1", xSwr1, swr1Series,
  { min: 1132, max: 1144, ticks: xTicksSwr1, title: "Chromosome IV coordinate (kbp)" },
  { min: 0, max: 2.44, ticks: yTicksSwr1 },
  { top: 25, right: 35, yw: 69, xh: 56, xpad: 7, ypad: 10, xfont: 16 });

// legend: names on the left, coloured swatches on the right
const legend = document.getElementById("legend");
strains.forEach((name, k) => {
  const d = document.createElement("div");
  d.className = "lab";
  d.textContent = name;
  d.style.top = (29 + 19.17 * k - 7.4).toFixed(1) + "px";
  legend.appendChild(d);
});
mrc1Series.forEach((s, k) => {
  const d = document.createElement("div");
  d.className = "swatch";
  d.style.background = palette[k % palette.length];
  d.style.top = (25 + 20.1 * k - 1.5).toFixed(1) + "px";
  legend.appendChild(d);
});
</script>
</body>
</html>
